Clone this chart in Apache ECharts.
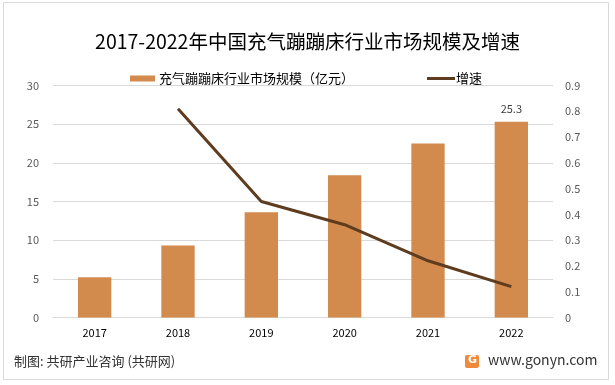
<!DOCTYPE html>
<html><head><meta charset="utf-8">
<script src="https://cdn.jsdelivr.net/npm/echarts@6/dist/echarts.min.js"></script>
<style>html,body{margin:0;padding:0;background:#fff}#c{width:615px;height:385px}</style>
</head><body><div id="c"></div>
<script>
var categories = ['2017','2018','2019','2020','2021','2022'];
var marketSize = [5.2, 9.3, 13.6, 18.4, 22.5, 25.3];
var growth = [null, 0.81, 0.45, 0.36, 0.22, 0.12];
var leftTicks = [0, 5, 10, 15, 20, 25, 30];
var rightTicks = [0, 0.1, 0.2, 0.3, 0.4, 0.5, 0.6, 0.7, 0.8, 0.9];
var barName = '充气蹦蹦床行业市场规模（亿元）';
var lineName = '增速';
var titleText = '2017-2022年中国充气蹦蹦床行业市场规模及增速';
var sourceText = '制图: 共研产业咨询 (共研网)';
var siteText = 'www.gonyn.com';

var font = '"Noto Sans CJK SC", "Noto Sans", sans-serif';
var chart = echarts.init(document.getElementById('c'), null, {renderer: 'canvas'});
chart.setOption({
  animation: false,
  backgroundColor: '#fff',
  textStyle: {fontFamily: font},
  title: {
    text: titleText, left: 'center', top: 27,
    textStyle: {fontSize: 19.5, fontWeight: 'normal', color: '#000', fontFamily: font}
  },
  legend: [{
    data: [{name: barName, icon: 'rect'}],
    left: 125, top: 67, itemWidth: 25, itemHeight: 6, itemGap: 4,
    textStyle: {fontSize: 13, color: '#000', padding: [0, 0, 0, -1]}
  }, {
    data: [{name: lineName, icon: 'rect', itemStyle: {color: '#5E3C1F'}}],
    left: 422, top: 67, itemWidth: 28, itemHeight: 3,
    textStyle: {fontSize: 13, color: '#000', padding: [0, 0, 0, -4]}
  }],
  grid: {left: 53, right: 62, top: 85.5, bottom: 67.5, containLabel: false},
  xAxis: {
    type: 'category', data: categories,
    axisLine: {lineStyle: {color: '#d9d9d9'}},
    axisTick: {show: false},
    axisLabel: {color: '#000', fontSize: 11, margin: 10}
  },
  yAxis: [{
    type: 'value', min: 0, max: 30, interval: 5,
    axisLine: {show: false}, axisTick: {show: false},
    splitLine: {lineStyle: {color: '#d9d9d9'}},
    axisLabel: {color: '#595959', fontSize: 11, margin: 14,
      formatter: function(v){ return leftTicks.indexOf(v) >= 0 ? String(v) : ''; }}
  }, {
    type: 'value', min: 0, max: 0.9, interval: 0.1,
    axisLine: {show: false}, axisTick: {show: false},
    splitLine: {show: false},
    axisLabel: {color: '#595959', fontSize: 11, margin: 12,
      formatter: function(v){ var r = Math.round(v*10)/10; return String(r); }}
  }],
  series: [{
    name: barName, type: 'bar', data: marketSize, barWidth: '40%',
    itemStyle: {color: '#D38A4D'},
    label: {show: true, position: 'top', distance: 8, color: '#404040', fontSize: 11,
      formatter: function(p){ return p.dataIndex === marketSize.length - 1 ? String(p.value) : ''; }}
  }, {
    name: lineName, type: 'line', yAxisIndex: 1, data: growth,
    showSymbol: false, symbol: 'none',
    lineStyle: {color: '#5E3C1F', width: 3},
    itemStyle: {color: '#5E3C1F'}
  }],
  graphic: [{
    type: 'rect', shape: {x: 3.5, y: 2.5, width: 605, height: 377},
    style: {fill: 'none', stroke: '#d9d9d9', lineWidth: 1}, z: 100
  }, {
    type: 'text', left: 14, top: 355,
    style: {text: sourceText, fontSize: 13, fill: '#333', fontFamily: font}
  }, {
    type: 'rect', shape: {x: 465, y: 355, width: 14, height: 13, r: 2},
    style: {fill: '#F08A3C'}
  }, {
    type: 'text', left: 468, top: 355,
    style: {text: 'G', fontSize: 11, fontWeight: 'bold', fill: '#fff', fontFamily: 'DejaVu Sans'}
  }, {
    type: 'text', left: 488, top: 353,
    style: {text: siteText, fontSize: 14, fill: '#333', fontFamily: font}
  }]
});
</script></body></html>
